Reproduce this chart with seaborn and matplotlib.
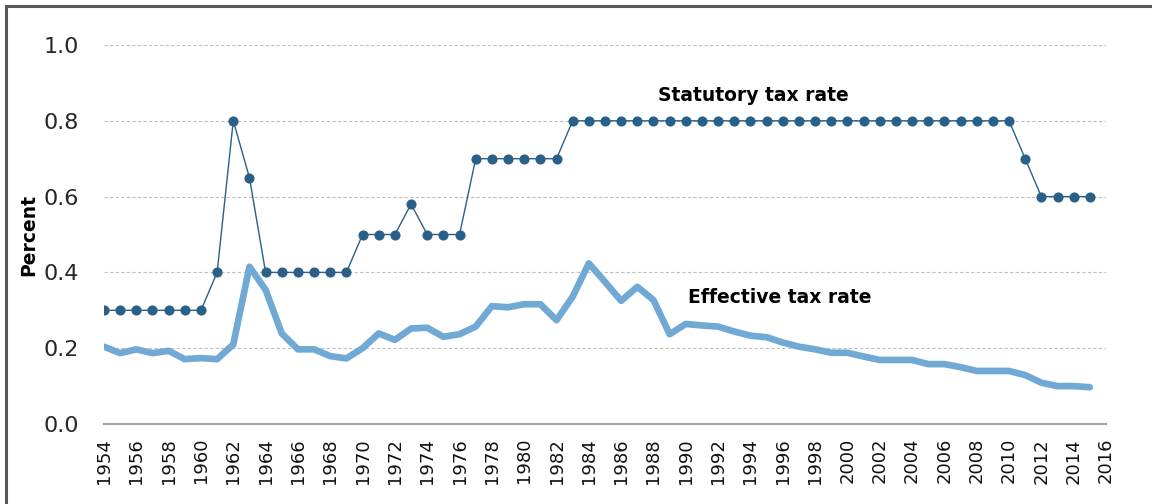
import pandas as pd
import seaborn as sns
import matplotlib.pyplot as plt
from matplotlib.patches import Rectangle

# dados
anos = list(range(1954, 2016))
estatutaria = [0.30] * 7 + [0.40, 0.80, 0.65] + [0.40] * 6 + [0.50] * 3 + [0.58] + [0.50] * 3 \
    + [0.70] * 6 + [0.80] * 28 + [0.70] + [0.60] * 4
efetiva = [0.204, 0.187, 0.197, 0.187, 0.193, 0.171, 0.174, 0.171, 0.21, 0.415,
           0.354, 0.239, 0.197, 0.197, 0.179, 0.173, 0.20, 0.239, 0.222, 0.252,
           0.254, 0.230, 0.237, 0.257, 0.311, 0.308, 0.316, 0.316, 0.274, 0.336,
           0.424, 0.375, 0.325, 0.362, 0.327, 0.237, 0.264, 0.260, 0.257, 0.244,
           0.233, 0.229, 0.215, 0.204, 0.197, 0.188, 0.188, 0.178, 0.169, 0.169,
           0.169, 0.158, 0.158, 0.150, 0.140, 0.140, 0.140, 0.129, 0.109, 0.100,
           0.100, 0.097]

df = pd.DataFrame({'ano': anos, 'estatutaria': estatutaria, 'efetiva': efetiva})

sns.set_style('white')
plt.rcParams['font.family'] = ['DejaVu Sans']

fig = plt.figure(figsize=(11.52, 5.04), dpi=100)
ax = fig.add_axes([104 / 1152, 1 - 424 / 504, (1106 - 104) / 1152, (424 - 45) / 504])

sns.lineplot(x='ano', y='efetiva', data=df, ax=ax, color='#70A9D3', linewidth=4.8,
             solid_capstyle='round', solid_joinstyle='round')
sns.lineplot(x='ano', y='estatutaria', data=df, ax=ax, color='#2A5F87', linewidth=1.0,
             marker='o', markersize=7.3, markeredgewidth=0)

ax.set_xlim(1954, 2016)
ax.set_ylim(0, 1.0)
ax.set_xticks(range(1954, 2017, 2))
ax.set_xticklabels([str(a) for a in range(1954, 2017, 2)], rotation=90, fontsize=13, color='#111111')
ax.set_yticks([0, 0.2, 0.4, 0.6, 0.8, 1.0])
ax.set_yticklabels(['0.0', '0.2', '0.4', '0.6', '0.8', '1.0'], fontsize=16, color='#262626')
ax.tick_params(axis='x', length=7, width=1.2, color='#A6A6A6', pad=3)
ax.tick_params(axis='y', length=0, pad=18)

for v in [0.2, 0.4, 0.6, 0.8, 1.0]:
    ax.axhline(v, color='#BFBFBF', linestyle=(0, (3, 2)), linewidth=0.8, zorder=0)

for lado in ['top', 'right', 'left']:
    ax.spines[lado].set_visible(False)
ax.spines['bottom'].set_color('#A6A6A6')
ax.spines['bottom'].set_linewidth(1.5)

ax.set_xlabel('')
ax.set_ylabel('Percent', fontsize=13.5, fontweight='bold', labelpad=4, color='black')

ax.text(1994.2, 0.868, 'Statutory tax rate', fontsize=13.5, fontweight='bold',
        ha='center', va='center', color='black')
ax.text(1995.8, 0.335, 'Effective tax rate', fontsize=13.5, fontweight='bold',
        ha='center', va='center', color='black')

# moldura
fig.patches.append(Rectangle((6 / 1152, -0.1), 1.2, 0.988 + 0.1, transform=fig.transFigure,
                             fill=False, edgecolor='#595959', linewidth=2.2))

fig.savefig('out.png', dpi=100)
